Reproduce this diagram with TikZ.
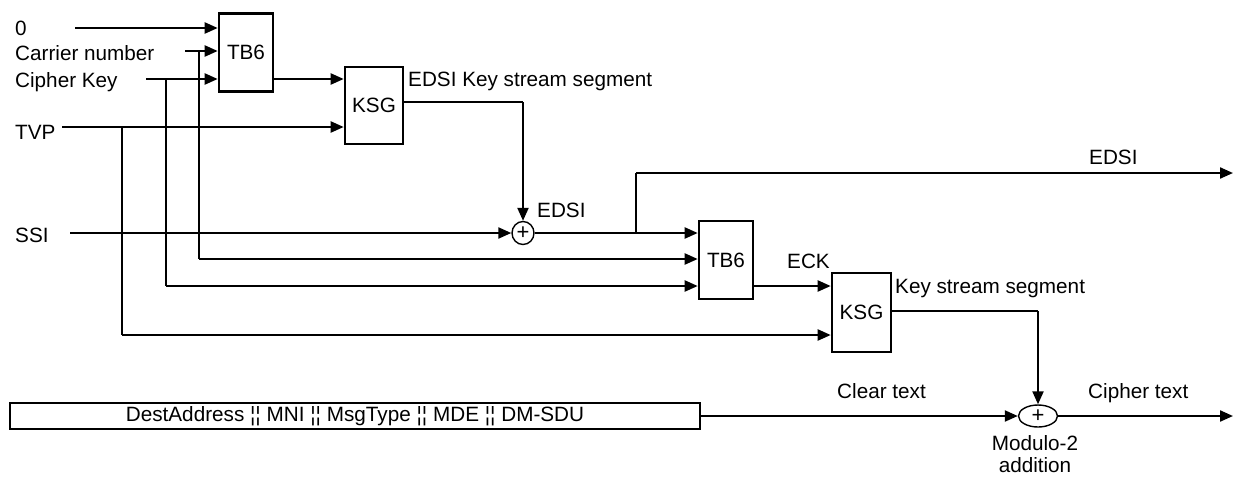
\documentclass[tikz,border=0pt]{standalone}
\usepackage{fontspec}
\setmainfont{Liberation Sans}
\usetikzlibrary{
  arrows.meta,
  positioning,
  calc,
  shapes.geometric
}
\tikzset{
  >={Triangle[length=13pt,width=11pt]},
  every node/.style={font=\fontsize{20.7}{23}\selectfont},
  block/.style={
    draw,
    line width=2.6pt,
    minimum width=54pt,
    minimum height=78pt,
    inner sep=0pt
  },
  xor/.style={draw, ellipse, line width=1.4pt, inner sep=0pt, font=\fontsize{22}{22}\selectfont},
  wire/.style={line width=2.2pt},
  branch/.style={line width=1.2pt},
  annot/.style={inner sep=0pt, anchor=base west}
}

\begin{document}
\begin{tikzpicture}[x=1pt, y=-1pt]
  \useasboundingbox (0,0) rectangle (1234,477);

  % Nodes
  \node[block] (tb6a) at (246,52.5) {TB6};
  \node[block, minimum width=58pt, minimum height=77pt] (ksga) at (374,105.5) {KSG};
  \node[block] (tb6b) at (726,260) {TB6};
  \node[block, minimum width=59pt, minimum height=79pt] (ksgb) at (861.5,312.5) {KSG};
  \node[xor, minimum width=22pt, minimum height=23pt] (xora) at (523,233) {+};
  \node[xor, minimum width=39pt, minimum height=22pt] (xorb) at (1038,416) {+};
  \node[block, minimum width=690pt, minimum height=26pt] (msg) at (355,416)
    {DestAddress ¦¦ MNI ¦¦ MsgType ¦¦ MDE ¦¦ DM-SDU};

  % Inputs
  \node[annot] (lzero) at (15,35) {0};
  \node[annot] (lcarrier) at (15,60) {Carrier number};
  \node[annot] (lcipher) at (15,87) {Cipher Key};
  \node[annot] (ltvp) at (15,139) {TVP};
  \node[annot] (lssi) at (15,242) {SSI};

  \coordinate (inzero) at (75,28);
  \coordinate (incarrier) at (185,51);
  \coordinate (incipher) at (146,79);
  \coordinate (intvp) at (62,127);
  \coordinate (inssi) at (70,233);

  % Branch points and bends
  \coordinate (brcarrier) at (199,51);
  \coordinate (brcipher) at (166,79);
  \coordinate (brtvp) at (122,127);
  \coordinate (bendcarrier) at (199,259);
  \coordinate (bendcipher) at (166,286);
  \coordinate (bendtvp) at (122,335);
  \coordinate (bredsi) at (636,233);
  \coordinate (edsiout) at (1233,173);
  \coordinate (ksgaout) at (523,102);
  \coordinate (ksgbout) at (1038,311);
  \coordinate (cipherout) at (1233,416);

  % First stage
  \draw[wire, ->] (inzero) -- (tb6a.west |- inzero);
  \draw[wire, ->] (incarrier) -- (tb6a.west |- incarrier);
  \draw[wire, ->] (incipher) -- (tb6a.west |- incipher);
  \draw[wire, ->] (tb6a.east |- incipher) -- (ksga.west |- incipher);
  \draw[wire, ->] (intvp) -- (ksga.west |- intvp);
  \draw[branch] (ksga.east |- ksgaout) -- (ksgaout);
  \draw[wire, ->] (ksgaout) -- (xora.north);
  \draw[wire, ->] (inssi) -- (xora.west);

  % EDSI out
  \draw[wire, ->] (xora.east) -- (tb6b.west |- xora);
  \draw[branch] (bredsi) -- (bredsi |- edsiout);
  \draw[wire, ->] (bredsi |- edsiout) -- (edsiout);

  % Second stage
  \draw[branch] (brcarrier) -- (bendcarrier);
  \draw[wire, ->] (bendcarrier) -- (tb6b.west |- bendcarrier);
  \draw[branch] (brcipher) -- (bendcipher);
  \draw[wire, ->] (bendcipher) -- (tb6b.west |- bendcipher);
  \draw[branch] (brtvp) -- (bendtvp);
  \draw[wire, ->] (bendtvp) -- (ksgb.west |- bendtvp);
  \draw[wire, ->] (tb6b.east |- bendcipher) -- (ksgb.west |- bendcipher);
  \draw[branch] (ksgb.east |- ksgbout) -- (ksgbout);
  \draw[wire, ->] (ksgbout) -- (xorb.north);

  % Message
  \draw[wire, ->] (msg.east) -- (xorb.west);
  \draw[wire, ->] (xorb.east) -- (cipherout);

  % Labels
  \node[annot] (ledsiks) at (408,86) {EDSI Key stream segment};
  \node[annot] (ledsia) at (537,217) {EDSI};
  \node[annot] (ledsib) at (1089,164) {EDSI};
  \node[annot] (leck) at (787,268) {ECK};
  \node[annot] (lks) at (895,293) {Key stream segment};
  \node[annot] (lclear) at (837,398) {Clear text};
  \node[annot] (lcipherout) at (1088,398) {Cipher text};
  \node[inner sep=0pt, anchor=north, align=center, font=\fontsize{20.7}{22}\selectfont] (lmod) at (1035,435) {Modulo-2\\addition};
\end{tikzpicture}
\end{document}
